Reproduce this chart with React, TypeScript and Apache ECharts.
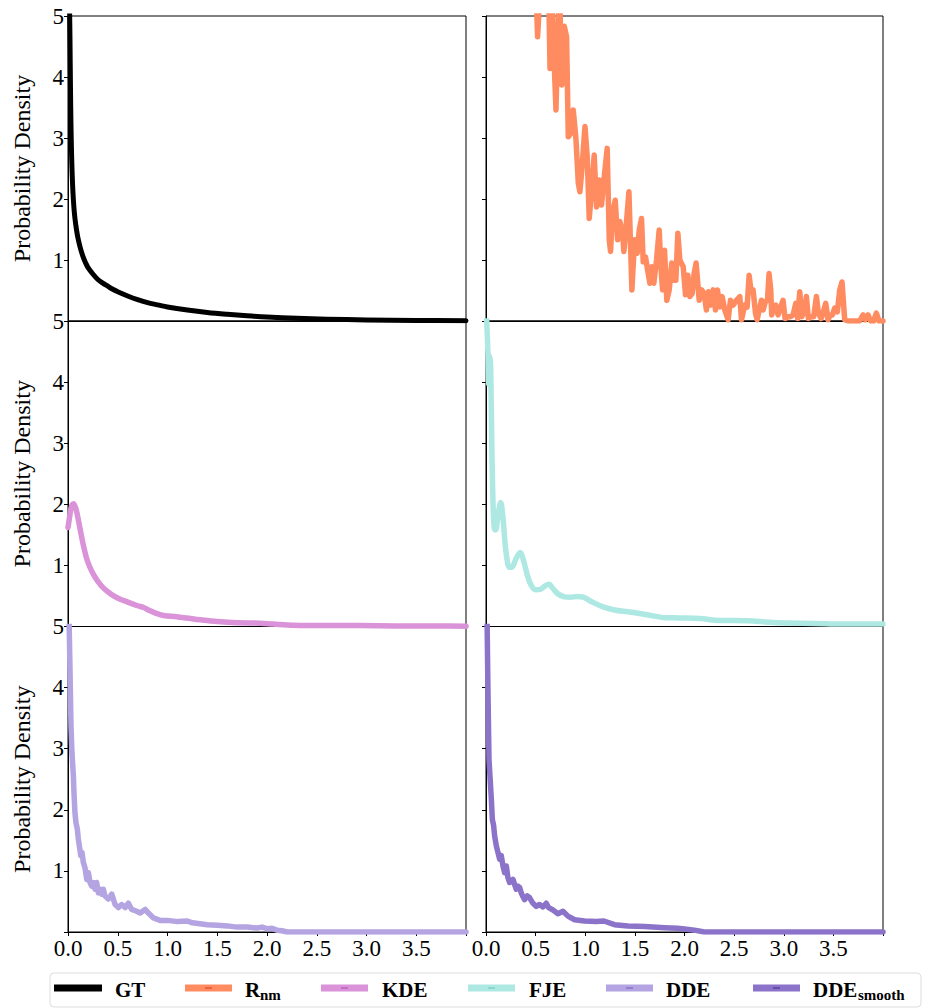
import React, { useEffect, useRef } from "react";
import * as echarts from "echarts";

const xTicks = [0.0, 0.5, 1.0, 1.5, 2.0, 2.5, 3.0, 3.5];
const yTicks = [1, 2, 3, 4, 5];
const seriesNames = ["GT", "R_nm", "KDE", "FJE", "DDE", "DDE_smooth"];
const seriesColors = ["#000000", "#FF8C61", "#DA92D9", "#AEE8E3", "#B4A4E2", "#8B73C9"];
const markColors = ["#000000", "#E8452B", "#B456B4", "#6FCFC4", "#7A66C4", "#4B3A99"];

const gtData = [
  [0.012, 5.6], [0.016, 5.1], [0.02, 4.6], [0.025, 3.8], [0.03, 3.2], [0.035, 2.8],
  [0.04, 2.5], [0.05, 2.1], [0.06, 1.85], [0.07, 1.68], [0.085, 1.5], [0.1, 1.36],
  [0.125, 1.19], [0.15, 1.06], [0.175, 0.96], [0.2, 0.88], [0.25, 0.77], [0.3, 0.68],
  [0.35, 0.62], [0.4, 0.57], [0.45, 0.52], [0.5, 0.48], [0.6, 0.41], [0.7, 0.35],
  [0.8, 0.3], [0.9, 0.265], [1.0, 0.23], [1.2, 0.18], [1.4, 0.14], [1.6, 0.11],
  [1.8, 0.085], [2.0, 0.065], [2.3, 0.045], [2.6, 0.03], [3.0, 0.018], [3.5, 0.01],
  [4.0, 0.005],
];

const rnmData = [
  [0.5, 5.6], [0.52, 4.66], [0.55, 5.6], [0.63, 5.6], [0.645, 4.14], [0.66, 5.4],
  [0.705, 3.46], [0.738, 5.6], [0.765, 3.87], [0.789, 4.83], [0.812, 4.66], [0.829, 3.02],
  [0.856, 3.08], [0.879, 3.46], [0.906, 2.99], [0.93, 2.26], [0.946, 2.12], [0.966, 2.48],
  [0.997, 3.19], [1.02, 2.69], [1.04, 1.68], [1.067, 2.2], [1.09, 2.72], [1.114, 1.87],
  [1.141, 2.31], [1.164, 1.9], [1.188, 2.31], [1.221, 2.83], [1.242, 1.33], [1.255, 1.14],
  [1.275, 1.77], [1.302, 1.98], [1.326, 1.33], [1.349, 1.63], [1.376, 1.44], [1.389, 1.14],
  [1.409, 1.49], [1.44, 2.12], [1.47, 0.51], [1.497, 1.33], [1.523, 1.11], [1.544, 1.49],
  [1.567, 1.68], [1.584, 0.97], [1.607, 1.05], [1.628, 0.84], [1.651, 0.62], [1.671, 0.89],
  [1.691, 0.62], [1.718, 1.0], [1.745, 1.49], [1.762, 0.89], [1.779, 0.51], [1.799, 1.16],
  [1.822, 0.34], [1.846, 0.51], [1.872, 0.95], [1.893, 0.67], [1.913, 0.67], [1.933, 1.44],
  [1.953, 1.0], [1.987, 0.89], [2.01, 0.43], [2.034, 0.75], [2.054, 0.4], [2.077, 0.45],
  [2.097, 0.78], [2.117, 0.95], [2.148, 0.34], [2.174, 0.51], [2.198, 0.45], [2.221, 0.18],
  [2.242, 0.48], [2.265, 0.26], [2.289, 0.51], [2.312, 0.18], [2.332, 0.51], [2.356, 0.23],
  [2.379, 0.4], [2.406, 0.18], [2.44, 0.02], [2.463, 0.34], [2.49, 0.26], [2.523, 0.34],
  [2.557, 0.4], [2.574, 0.02], [2.607, 0.26], [2.631, 0.23], [2.651, 0.75], [2.671, 0.48],
  [2.691, 0.51], [2.715, 0.13], [2.732, 0.02], [2.748, 0.15], [2.775, 0.34], [2.792, 0.18],
  [2.815, 0.32], [2.836, 0.34], [2.852, 0.78], [2.869, 0.51], [2.879, 0.1], [2.899, 0.23],
  [2.919, 0.26], [2.943, 0.1], [2.97, 0.23], [2.993, 0.34], [3.013, 0.04], [3.044, 0.07],
  [3.067, 0.07], [3.094, 0.1], [3.121, 0.29], [3.141, 0.04], [3.161, 0.48], [3.181, 0.07],
  [3.208, 0.15], [3.228, 0.4], [3.248, 0.04], [3.275, 0.07], [3.302, 0.07], [3.329, 0.4],
  [3.349, 0.13], [3.376, 0.04], [3.396, 0.13], [3.423, 0.29], [3.446, 0.02], [3.47, 0.1],
  [3.49, 0.1], [3.513, 0.21], [3.54, 0.15], [3.564, 0.51], [3.587, 0.64], [3.614, 0.02],
  [3.648, 0.0], [3.765, 0.0], [3.799, 0.1], [3.822, 0.02], [3.849, 0.1], [3.876, 0.0],
  [3.906, 0.0], [3.933, 0.13], [3.96, 0.0], [4.0, 0.0],
];

const kdeData = [
  [0.0, 1.62], [0.015, 1.78], [0.035, 1.97], [0.055, 2.01], [0.075, 1.95], [0.095, 1.82],
  [0.12, 1.61], [0.14, 1.44], [0.16, 1.29], [0.19, 1.1], [0.22, 0.97], [0.26, 0.84],
  [0.3, 0.74], [0.35, 0.64], [0.4, 0.57], [0.45, 0.51], [0.52, 0.45], [0.6, 0.4],
  [0.7, 0.34], [0.76, 0.31], [0.82, 0.26], [0.88, 0.22], [0.96, 0.18], [1.09, 0.16],
  [1.19, 0.14], [1.33, 0.11], [1.5, 0.08], [1.7, 0.06], [1.93, 0.055], [2.06, 0.04],
  [2.27, 0.02], [2.6, 0.015], [2.94, 0.015], [3.3, 0.01], [3.7, 0.008], [4.0, 0.005],
];

const fjeData = [
  [0.0, 5.3], [0.012, 4.8], [0.02, 4.46], [0.027, 3.97], [0.037, 4.43], [0.047, 4.24],
  [0.06, 2.82], [0.074, 1.84], [0.085, 1.6], [0.097, 1.58], [0.121, 1.82], [0.148, 2.03],
  [0.171, 1.78], [0.19, 1.4], [0.21, 1.12], [0.235, 0.97], [0.26, 0.97], [0.305, 1.12],
  [0.345, 1.21], [0.375, 1.1], [0.41, 0.88], [0.45, 0.69], [0.5, 0.6], [0.55, 0.61],
  [0.6, 0.67], [0.635, 0.69], [0.67, 0.63], [0.72, 0.54], [0.78, 0.49], [0.85, 0.48],
  [0.92, 0.49], [0.98, 0.48], [1.06, 0.41], [1.18, 0.32], [1.295, 0.27], [1.43, 0.24],
  [1.56, 0.21], [1.7, 0.17], [1.8, 0.145], [1.95, 0.14], [2.155, 0.13], [2.356, 0.098],
  [2.625, 0.095], [2.726, 0.085], [2.96, 0.06], [3.3, 0.05], [3.63, 0.04], [4.0, 0.04],
];

const ddeData = [
  [0.01, 5.2], [0.02, 4.3], [0.03, 3.37], [0.04, 2.93], [0.054, 2.55], [0.06, 2.28],
  [0.07, 1.95], [0.08, 1.79], [0.094, 1.68], [0.104, 1.52], [0.114, 1.41], [0.128, 1.25],
  [0.141, 1.3], [0.154, 1.14], [0.171, 1.05], [0.188, 0.86], [0.205, 0.97], [0.221, 0.81],
  [0.238, 0.75], [0.255, 0.81], [0.272, 0.7], [0.288, 0.81], [0.305, 0.64], [0.322, 0.7],
  [0.339, 0.62], [0.355, 0.7], [0.372, 0.59], [0.406, 0.54], [0.44, 0.62], [0.473, 0.45],
  [0.507, 0.4], [0.54, 0.45], [0.574, 0.4], [0.607, 0.47], [0.64, 0.37], [0.69, 0.34],
  [0.725, 0.31], [0.775, 0.37], [0.808, 0.31], [0.859, 0.23], [0.925, 0.19], [1.0, 0.19],
  [1.1, 0.17], [1.2, 0.18], [1.25, 0.15], [1.4, 0.12], [1.5, 0.11], [1.6, 0.1],
  [1.7, 0.08], [1.8, 0.08], [1.9, 0.065], [1.95, 0.08], [2.0, 0.055], [2.05, 0.06],
  [2.1, 0.03], [2.15, 0.02], [2.2, 0.0], [4.0, 0.0],
];

const ddeSmoothData = [
  [0.01, 5.2], [0.02, 3.92], [0.03, 2.83], [0.04, 2.55], [0.054, 2.17], [0.064, 1.84],
  [0.077, 1.74], [0.087, 1.57], [0.104, 1.41], [0.121, 1.3], [0.138, 1.19], [0.154, 1.25],
  [0.171, 1.08], [0.188, 0.97], [0.205, 1.08], [0.221, 0.89], [0.238, 0.81], [0.255, 0.83],
  [0.272, 0.86], [0.288, 0.78], [0.305, 0.7], [0.322, 0.75], [0.339, 0.73], [0.355, 0.64],
  [0.372, 0.58], [0.389, 0.53], [0.416, 0.59], [0.44, 0.56], [0.473, 0.47], [0.507, 0.42],
  [0.54, 0.45], [0.574, 0.41], [0.607, 0.47], [0.631, 0.4], [0.675, 0.36], [0.725, 0.3],
  [0.775, 0.34], [0.826, 0.26], [0.893, 0.2], [0.993, 0.18], [1.11, 0.17], [1.188, 0.18],
  [1.295, 0.12], [1.43, 0.1], [1.6, 0.09], [1.8, 0.07], [1.93, 0.06], [2.0, 0.05],
  [2.1, 0.03], [2.2, 0.0], [4.0, 0.0],
];

const allData = [gtData, rnmData, kdeData, fjeData, ddeData, ddeSmoothData];
const smoothFlags = [true, false, true, true, false, false];

const FONT = "Liberation Serif";

const gridPos = [
  { left: 68, top: 16, width: 398, height: 305 },
  { left: 486, top: 16, width: 397, height: 305 },
  { left: 68, top: 321, width: 398, height: 305.5 },
  { left: 486, top: 321, width: 397, height: 305.5 },
  { left: 68, top: 626.5, width: 398, height: 305.5 },
  { left: 486, top: 626.5, width: 397, height: 305.5 },
];

const legendLayout = [
  { x1: 54, x2: 102, tx: 115 },
  { x1: 185, x2: 232, tx: 245 },
  { x1: 321, x2: 368, tx: 382 },
  { x1: 468, x2: 515, tx: 529 },
  { x1: 606, x2: 653, tx: 666 },
  { x1: 753, x2: 800, tx: 813 },
];

export default function App() {
  const ref = useRef<HTMLDivElement>(null);
  useEffect(() => {
    if (!ref.current) return;
    const chart = echarts.init(ref.current, null, { renderer: "svg" });
    const grids = gridPos.map((g) => ({
      ...g,
      show: true,
      borderColor: "#000",
      borderWidth: 1,
      backgroundColor: "transparent",
    }));
    const xAxes = gridPos.map((_, i) => {
      const bottom = i >= 4;
      return {
        type: "value",
        gridIndex: i,
        min: 0,
        max: 4,
        interval: 0.5,
        axisLine: { show: true, lineStyle: { color: "#000", width: 1 } },
        axisTick: { show: bottom, length: 4, lineStyle: { color: "#000" } },
        axisLabel: {
          show: bottom,
          margin: 5,
          fontFamily: FONT,
          fontSize: 23,
          color: "#000",
          formatter: (v: number) => (xTicks.includes(v) ? v.toFixed(1) : ""),
        },
        splitLine: { show: false },
      };
    });
    const yAxes = gridPos.map((_, i) => {
      const left = i % 2 === 0;
      return {
        type: "value",
        gridIndex: i,
        min: 0,
        max: 5,
        interval: 1,
        name: left ? "Probability Density" : "",
        nameLocation: "middle",
        nameGap: 34,
        nameTextStyle: { fontFamily: FONT, fontSize: 24, color: "#000" },
        axisLine: { show: true, lineStyle: { color: "#000", width: 1 } },
        axisTick: { show: true, length: 4, lineStyle: { color: "#000" } },
        axisLabel: {
          show: left,
          margin: 4,
          fontFamily: FONT,
          fontSize: 23,
          color: "#000",
          formatter: (v: number) => (yTicks.includes(v) ? String(v) : ""),
        },
        splitLine: { show: false },
      };
    });
    const series = allData.map((d, i) => ({
      type: "line",
      name: seriesNames[i],
      xAxisIndex: i,
      yAxisIndex: i,
      data: d,
      showSymbol: false,
      symbol: "none",
      smooth: smoothFlags[i] ? 0.35 : false,
      clip: true,
      lineStyle: { color: seriesColors[i], width: i === 0 ? 5 : 5.5, join: "round", cap: "round" },
      z: 2,
    }));

    const legendY = 988;
    const legendElems: any[] = [
      {
        type: "rect",
        shape: { x: 50, y: 973, width: 871, height: 34, r: 4 },
        style: { fill: "#fff", stroke: "#dddddd", lineWidth: 1 },
      },
    ];
    legendLayout.forEach((l, i) => {
      legendElems.push({
        type: "line",
        shape: { x1: l.x1, y1: legendY, x2: l.x2, y2: legendY },
        style: { stroke: seriesColors[i], lineWidth: 7 },
      });
      if (i > 0) {
        const cx = (l.x1 + l.x2) / 2;
        legendElems.push({
          type: "line",
          shape: { x1: cx - 3.5, y1: legendY, x2: cx + 3.5, y2: legendY },
          style: { stroke: markColors[i], lineWidth: 1.2 },
        });
      }
    });
    const txtStyle = (text: string, x: number, y: number, size: number) => ({
      type: "text",
      x,
      y,
      style: {
        text,
        fontFamily: FONT,
        fontWeight: "bold",
        fontSize: size,
        fill: "#000",
        verticalAlign: "middle",
      },
    });
    legendElems.push(txtStyle("GT", legendLayout[0].tx, 990, 21));
    legendElems.push(txtStyle("R", legendLayout[1].tx, 990, 21));
    legendElems.push(txtStyle("nm", legendLayout[1].tx + 15, 995, 15));
    legendElems.push(txtStyle("KDE", legendLayout[2].tx, 990, 21));
    legendElems.push(txtStyle("FJE", legendLayout[3].tx, 990, 21));
    legendElems.push(txtStyle("DDE", legendLayout[4].tx, 990, 21));
    legendElems.push(txtStyle("DDE", legendLayout[5].tx, 990, 21));
    legendElems.push(txtStyle("smooth", legendLayout[5].tx + 45, 995, 15));

    chart.setOption({
      animation: false,
      backgroundColor: "#fff",
      grid: grids,
      xAxis: xAxes,
      yAxis: yAxes,
      series,
      graphic: legendElems,
    } as any);
    return () => chart.dispose();
  }, []);
  return (
    <div
      ref={ref}
      style={{ width: 931, height: 1008, position: "absolute", left: 0, top: 0 }}
    />
  );
}
